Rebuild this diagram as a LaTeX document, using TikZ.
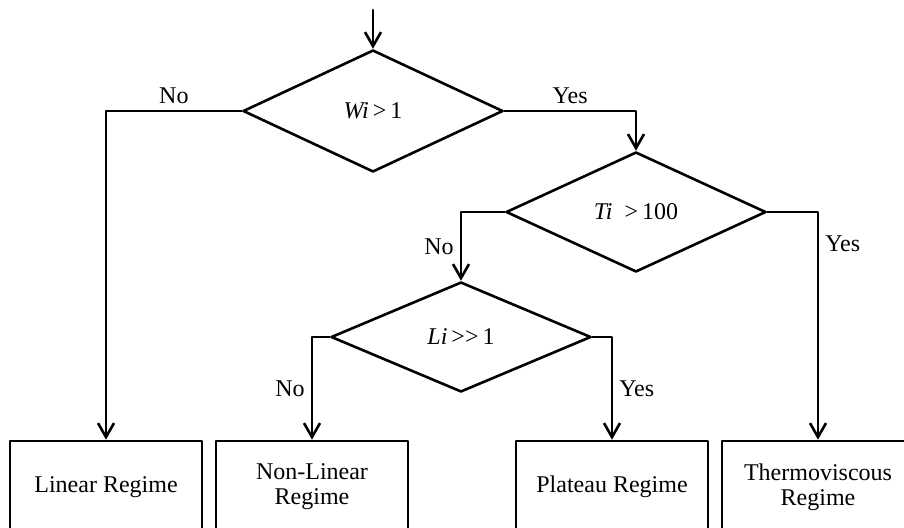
\documentclass[tikz,border=0pt]{standalone}
\usepackage{fontspec}
\setmainfont{Liberation Serif}
\usetikzlibrary{shapes.geometric,arrows.meta}
\begin{document}
\begin{tikzpicture}[x=0.5pt,y=-0.5pt,>={Straight Barb[length=7pt,width=8pt]},line join=round,line cap=round,line width=1.3pt,font=\fontsize{12}{12.5}\selectfont,
	test/.style={diamond,draw,aspect=2,inner sep=0pt,minimum width=130pt,minimum height=60pt},
	regime/.style={rectangle,draw,align=center,minimum width=96pt,minimum height=46pt},
	ans/.style={inner sep=3pt}]
			% Khung
			\useasboundingbox (0,0) rectangle (904,527);
			\clip (0,0) rectangle (904,527);
			% Các điều kiện
			\coordinate (start) at (373,10);
			\node [test,minimum height=61pt] (w) at (373,111) {\textit{Wi}\,>\,1};
			\node [test] (t) at (636,212) {\textit{Ti}\enspace>\,100};
			\node [test,minimum height=55pt] (l) at (461,337) {\textit{Li}\,>{}>\,1};
			% Các chế độ
			\node [regime] (lin) at (106,487) {Linear Regime};
			\node [regime] (nl) at (312,487) {Non-Linear\\Regime};
			\node [regime] (pl) at (612,487) {Plateau Regime};
			\node [regime] (th) at (818,487) {Thermoviscous\\Regime};
			% Nối
			\draw [->] (start)--(w);
			\draw [->] (w.west) -| node [ans,pos=0.25,above] {No} (lin.north);
			\draw [->] (w.east) -| node [ans,pos=0.25,above] {Yes} (t.north);
			\draw [->] (t.west) -| node [ans,pos=0.75,left] {No} (l.north);
			\draw [->] (t.east) -| node [ans,pos=0.57,right] {Yes} (th.north);
			\draw [->] (l.west) -| node [ans,pos=0.75,left] {No} (nl.north);
			\draw [->] (l.east) -| node [ans,pos=0.75,right] {Yes} (pl.north);
		\end{tikzpicture}
\end{document}
